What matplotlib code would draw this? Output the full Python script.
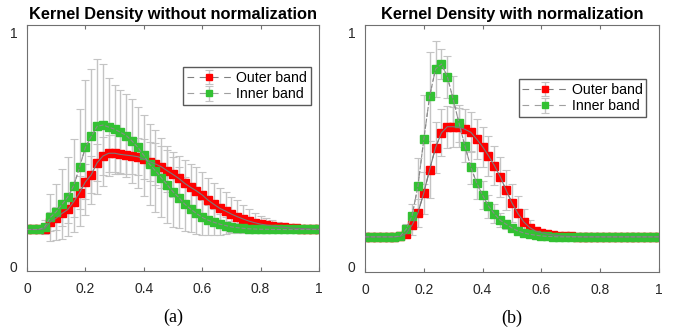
import numpy as np
import matplotlib.pyplot as plt

# x positions (step 0.02)
x = np.round(np.arange(0, 1.0001, 0.02), 2)

# (a) kernel density without normalization
outer_a = [0.157, 0.157, 0.157, 0.160, 0.190, 0.205, 0.226, 0.243, 0.276, 0.315,
           0.361, 0.392, 0.443, 0.472, 0.484, 0.484, 0.479, 0.476, 0.473, 0.469,
           0.459, 0.448, 0.438, 0.426, 0.409, 0.393, 0.376, 0.355, 0.338, 0.323,
           0.305, 0.283, 0.265, 0.248, 0.236, 0.223, 0.212, 0.202, 0.193, 0.186,
           0.180, 0.176, 0.172, 0.169, 0.166, 0.164, 0.162, 0.161, 0.160, 0.159, 0.158]
outer_a_err = [0, 0, 0, 0.02, 0.04, 0.05, 0.055, 0.06, 0.065, 0.07,
               0.075, 0.08, 0.08, 0.08, 0.08, 0.08, 0.08, 0.08, 0.08, 0.08,
               0.085, 0.085, 0.09, 0.09, 0.09, 0.095, 0.095, 0.1, 0.1, 0.1,
               0.1, 0.095, 0.09, 0.085, 0.08, 0.075, 0.07, 0.06, 0.05, 0.04,
               0.035, 0.03, 0.025, 0.02, 0.015, 0.01, 0.01, 0.005, 0.005, 0, 0]
inner_a = [0.157, 0.157, 0.157, 0.167, 0.209, 0.233, 0.265, 0.297, 0.345, 0.424,
           0.509, 0.556, 0.599, 0.605, 0.596, 0.587, 0.574, 0.560, 0.536, 0.509,
           0.475, 0.436, 0.409, 0.379, 0.349, 0.319, 0.294, 0.266, 0.245, 0.226,
           0.209, 0.197, 0.188, 0.180, 0.174, 0.168, 0.165, 0.162, 0.160, 0.159,
           0.158, 0.158, 0.157, 0.157, 0.157, 0.157, 0.157, 0.157, 0.157, 0.157, 0.157]
inner_a_err = [0, 0, 0, 0.03, 0.10, 0.12, 0.15, 0.17, 0.20, 0.25,
               0.29, 0.29, 0.29, 0.26, 0.21, 0.19, 0.18, 0.18, 0.18, 0.175,
               0.175, 0.175, 0.175, 0.17, 0.165, 0.15, 0.13, 0.115, 0.10, 0.09,
               0.075, 0.065, 0.055, 0.045, 0.035, 0.025, 0.02, 0.015, 0.01, 0.005,
               0.005, 0, 0, 0, 0, 0, 0, 0, 0, 0, 0]

# (b) kernel density with normalization
outer_b = [0.128, 0.128, 0.128, 0.128, 0.128, 0.128, 0.130, 0.142, 0.178, 0.230,
           0.316, 0.416, 0.510, 0.573, 0.599, 0.599, 0.596, 0.588, 0.575, 0.546,
           0.513, 0.475, 0.433, 0.385, 0.328, 0.273, 0.228, 0.192, 0.168, 0.153,
           0.146, 0.140, 0.136, 0.133, 0.131, 0.130, 0.129, 0.128, 0.128, 0.128,
           0.128, 0.128, 0.128, 0.128, 0.128, 0.128, 0.128, 0.128, 0.128, 0.128, 0.128]
outer_b_err = [0, 0, 0, 0, 0, 0, 0.01, 0.02, 0.04, 0.06,
               0.09, 0.12, 0.11, 0.10, 0.09, 0.085, 0.085, 0.085, 0.085, 0.085,
               0.085, 0.085, 0.085, 0.085, 0.085, 0.083, 0.075, 0.055, 0.03, 0.015,
               0.01, 0.005, 0, 0, 0, 0, 0, 0, 0, 0,
               0, 0, 0, 0, 0, 0, 0, 0, 0, 0, 0]
inner_b = [0.128, 0.128, 0.128, 0.128, 0.128, 0.128, 0.132, 0.161, 0.218, 0.345,
           0.545, 0.730, 0.846, 0.867, 0.813, 0.716, 0.613, 0.516, 0.426, 0.358,
           0.306, 0.259, 0.227, 0.199, 0.182, 0.166, 0.153, 0.145, 0.139, 0.135,
           0.132, 0.130, 0.129, 0.128, 0.128, 0.128, 0.128, 0.128, 0.128, 0.128,
           0.128, 0.128, 0.128, 0.128, 0.128, 0.128, 0.128, 0.128, 0.128, 0.128, 0.128]
inner_b_err = [0, 0, 0, 0, 0, 0, 0.01, 0.02, 0.05, 0.12,
               0.19, 0.19, 0.12, 0.065, 0.09, 0.10, 0.08, 0.07, 0.07, 0.07,
               0.06, 0.05, 0.04, 0.03, 0.02, 0.015, 0.01, 0.005, 0, 0,
               0, 0, 0, 0, 0, 0, 0, 0, 0, 0,
               0, 0, 0, 0, 0, 0, 0, 0, 0, 0, 0]

titles = ['Kernel Density without normalization', 'Kernel Density with normalization']
captions = ['(a)', '(b)']
labels = ['Outer band', 'Inner band']

RED = '#ff0000'
GREEN = '#33c133'

plt.rcParams['font.family'] = ['Liberation Sans', 'DejaVu Sans']

fig = plt.figure(figsize=(6.77, 3.33), dpi=100)
ax_a = fig.add_axes([27 / 677, 1 - 271 / 333, 292 / 677, 246 / 333])
ax_b = fig.add_axes([365 / 677, 1 - 271.7 / 333, 294 / 677, 246.7 / 333])


def draw_panel(ax, outer, outer_err, inner, inner_err, title, caption, legend_anchor):
    handles = []
    for y, err, col, lc in [(outer, outer_err, RED, '#808080'), (inner, inner_err, GREEN, '#a0a0a0')]:
        h = ax.errorbar(x, y, yerr=err, fmt='s', color=lc, ms=5.6, mfc=col, mec=col,
                        ecolor='#c4c4c4', elinewidth=1.0, capsize=3, capthick=0.8,
                        ls=(0, (6, 5)), lw=0.8)
        for cap in h[1]:
            cap.set_color('#8a8a8a')
        handles.append(h)
    # connecting lines drawn over the markers
    ax.plot(x, outer, color='#7a7a7a', lw=0.8, ls='-', zorder=5)
    ax.plot(x, inner, color='#8a8a8a', lw=0.8, ls='--', zorder=5)

    ax.set_xlim(0, 1)
    ax.set_ylim(-0.021, 1.034)
    ax.set_xticks([0, 0.2, 0.4, 0.6, 0.8, 1])
    ax.set_xticklabels(['0', '0.2', '0.4', '0.6', '0.8', '1'])
    ax.set_yticks([0, 1])
    ax.set_yticklabels(['0', '1'])
    ax.tick_params(axis='x', direction='in', length=3, top=True, colors='#707070',
                   labelcolor='#262626', labelsize=10, pad=8)
    ax.tick_params(axis='y', direction='in', length=0, labelcolor='#262626',
                   labelsize=10, pad=7)
    for s in ax.spines.values():
        s.set_color('#707070')
        s.set_linewidth(0.8)
    ax.set_title(title, fontsize=11.8, fontweight='bold', pad=4)
    ax.text(0.5, -0.19, caption, transform=ax.transAxes, ha='center', va='center',
            fontsize=13, family=['Liberation Serif', 'DejaVu Serif'])
    ax.legend(handles, labels, loc='upper right', bbox_to_anchor=legend_anchor,
              fontsize=10.2, frameon=True, fancybox=False, edgecolor='#303030',
              handlelength=3.2, borderpad=0.25, labelspacing=0.2, handletextpad=0.3,
              borderaxespad=0, markerscale=0.85)


draw_panel(ax_a, outer_a, outer_a_err, inner_a, inner_a_err, titles[0], captions[0],
           (0.972, 0.829))
draw_panel(ax_b, outer_b, outer_b_err, inner_b, inner_b_err, titles[1], captions[1],
           (0.956, 0.781))

fig.savefig('out.png', dpi=100)
